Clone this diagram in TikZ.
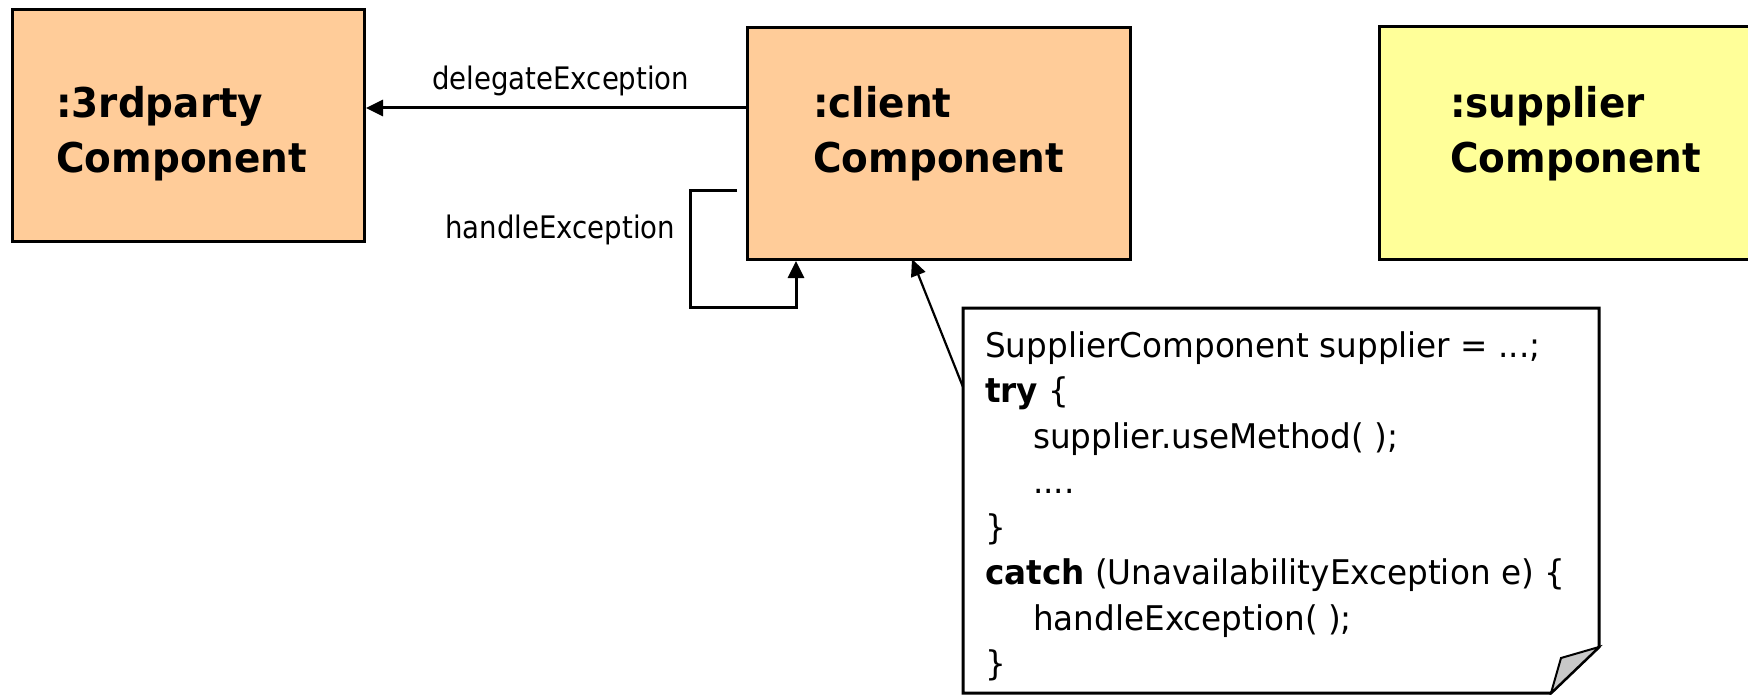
\documentclass[tikz,border=0pt]{standalone}
\usepackage{fontspec}
\setmainfont{DejaVu Sans}
\newfontfamily\boxfont{DejaVu Sans}[FakeStretch=0.95]
\newfontfamily\lblfont{DejaVu Sans}[FakeStretch=0.89]
\newfontfamily\notefont{DejaVu Sans}[FakeStretch=0.96]
\usetikzlibrary{arrows.meta}
\definecolor{peach}{HTML}{FFCC99}
\definecolor{paleyellow}{HTML}{FFFF99}
\definecolor{foldgray}{HTML}{C8C8C8}
\tikzset{
  compbox/.style={draw=black, line width=3pt, inner sep=0pt, anchor=north west},
  complabel/.style={anchor=base west, inner sep=0pt, align=left,
     font=\boxfont\bfseries\fontsize{41}{55}\selectfont},
  msglabel/.style={anchor=base west, inner sep=0pt, font=\lblfont\fontsize{31}{36}\selectfont},
  conn/.style={line width=3pt, -{Triangle[length=17pt,width=16pt]}},
  noteconn/.style={line width=2.2pt, -{Triangle[length=17pt,width=15pt]}},
  notebody/.style={draw=black, line width=3pt, fill=white, line join=miter},
}
\begin{document}
\begin{tikzpicture}[x=1pt,y=-1pt]
\useasboundingbox (0,0) rectangle (1748,695);

% component boxes
\node[compbox, fill=peach, minimum width=352pt, minimum height=232pt] (third) at (11,8) {};
\node[compbox, fill=peach, minimum width=383pt, minimum height=232pt] (client) at (746,26) {};
\node[compbox, fill=paleyellow, minimum width=380pt, minimum height=233pt] (supplier) at (1378,25) {};

% (base anchor of a multi-line node = baseline of its last line)
\node[complabel] (thirdlbl) at (56,173) {:3rdparty\\Component};
\node[complabel] (clientlbl) at (813,173) {:client\\Component};
\node[complabel] (supplierlbl) at (1450,173) {:supplier\\Component};

% delegateException
\coordinate (dstart) at (746,108);
\draw[conn] (dstart) -- (third.east |- dstart);
\node[msglabel] (dlbl) at (432,90) {delegateException};

% handleException self loop
\coordinate (lstart) at (737,191);
\coordinate (l1) at (690,191);
\coordinate (l2) at (690,307);
\coordinate (l3) at (796,307);
\draw[conn, line join=miter] (lstart) -- (l1) -- (l2) -- (l3) -- (client.south -| l3);
\node[msglabel] (hlbl) at (445,238) {handleException};

% note
\coordinate (n1) at (963,308);
\coordinate (n2) at (1599,308);
\coordinate (n3) at (1599,647);
\coordinate (n4) at (1551,693);
\coordinate (n5) at (963,693);
\draw[notebody] (n1) -- (n2) -- (n3) -- (n4) -- (n5) -- cycle;
\coordinate (fold) at (1561,658);
\draw[line width=2pt, fill=foldgray, line join=miter] (n3) -- (fold) -- (n4) -- cycle;

\node[anchor=base west, inner sep=0pt, align=left,
      font=\notefont\fontsize{34}{45.5}\selectfont] (code) at (985,675.5)
{SupplierComponent supplier = ...;\\
\textbf{try} \{\\
\hspace*{48pt}supplier.useMethod( );\\
\hspace*{48pt}....\\
\}\\
\textbf{catch} (UnavailabilityException e) \{\\
\hspace*{48pt}handleException( );\\
\}};

\coordinate (nattach) at (963,387);
\draw[noteconn] (nattach) -- (912,259);
\end{tikzpicture}
\end{document}
